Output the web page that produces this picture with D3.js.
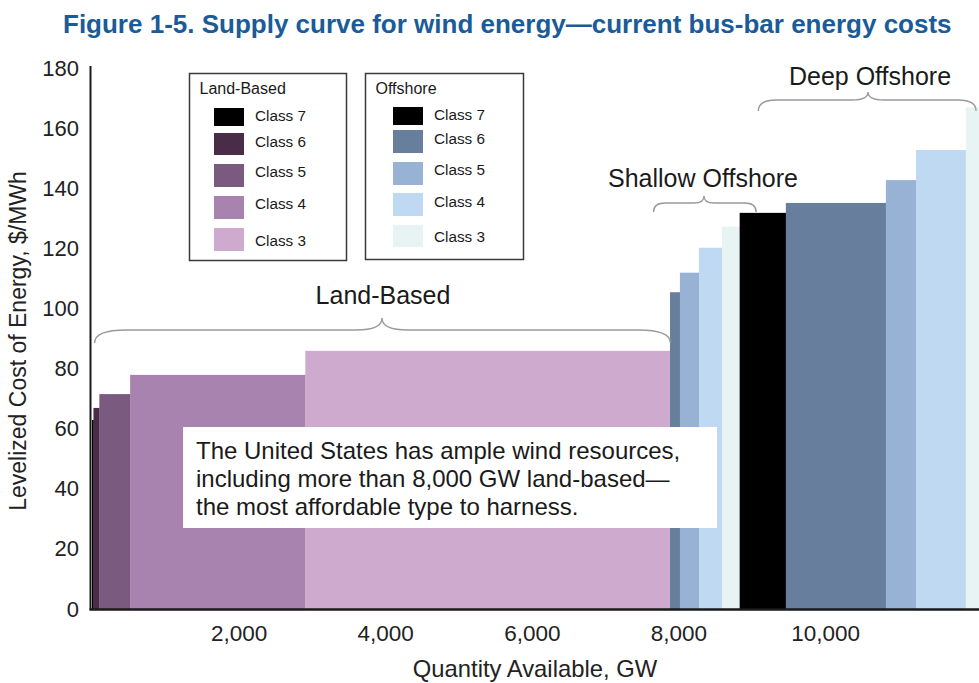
<!DOCTYPE html>
<html>
<head>
<meta charset="utf-8">
<script src="https://cdn.jsdelivr.net/npm/d3@7"></script>
<style>
  html, body { margin: 0; padding: 0; background: #ffffff; }
  svg { display: block; font-family: "Liberation Sans", Arial, Helvetica, sans-serif; }
</style>
</head>
<body>
<svg id="chart" width="979" height="683"></svg>
<script>
// ---------- data ----------
const barGroup    = ["Land","Land","Land","Land","Land",
                     "Shallow","Shallow","Shallow","Shallow",
                     "Deep","Deep","Deep","Deep","Deep"];
const barClass    = [7,6,5,4,3, 6,5,4,3, 7,6,5,4,3];
const capacityGW  = [20,80,420,2390,4975, 135,260,315,240, 630,1365,410,680,330];
const costPerMWh  = [62.9,66.9,71.5,77.9,85.9, 105.4,111.9,120.2,127.2, 131.8,135.1,142.7,152.7,166.9];

const xTicks = [2000,4000,6000,8000,10000];
const yTicks = [0,20,40,60,80,100,120,140,160,180];

const legendClasses = [7,6,5,4,3];
const landColors     = {7:"#000000",6:"#4a2c48",5:"#7b5a80",4:"#a983b0",3:"#cfaacf"};
const offshoreColors = {7:"#000000",6:"#677f9c",5:"#97b2d4",4:"#bfd9f3",3:"#e8f3f3"};

const groupLabels = ["Land-Based","Shallow Offshore","Deep Offshore"];
const titleText = "Figure 1-5. Supply curve for wind energy\u2014current bus-bar energy costs";
const noteLines = ["The United States has ample wind resources,",
                   "including more than 8,000 GW land-based\u2014",
                   "the most affordable type to harness."];

// ---------- scales ----------
const svg = d3.select("#chart");
const x = d3.scaleLinear().domain([0, 12100]).range([92, 979]);
const y = d3.scaleLinear().domain([0, 180]).range([609, 68]);

// cumulative positions
let acc = 0;
const bars = capacityGW.map((c, i) => {
  const b = {group: barGroup[i], cls: barClass[i], x0: acc, x1: acc + c, v: costPerMWh[i]};
  acc += c;
  return b;
});
const colorOf = b => (b.group === "Land" ? landColors : offshoreColors)[b.cls];

// title
svg.append("text").attr("x", 63).attr("y", 33)
  .attr("font-size", 26).attr("font-weight", "bold").attr("fill", "#1a5b98")
  .text(titleText);

// bars
svg.append("g").selectAll("rect").data(bars).join("rect")
  .attr("x", d => x(d.x0))
  .attr("width", d => x(d.x1) - x(d.x0) + 0.3)
  .attr("y", d => y(d.v))
  .attr("height", d => y(0) - y(d.v))
  .attr("fill", colorOf);

// axes
const yAxis = d3.axisLeft(y).tickValues(yTicks).tickSize(0).tickPadding(12);
const gy = svg.append("g").attr("transform", "translate(91,0)").call(yAxis);
gy.select(".domain").remove();
gy.selectAll("text").attr("font-size", 22).attr("fill", "#222").attr("font-family", "Liberation Sans, Arial, sans-serif");

const xAxis = d3.axisBottom(x).tickValues(xTicks).tickSize(0).tickPadding(16).tickFormat(d3.format(","));
const gx = svg.append("g").attr("transform", "translate(0,609)").call(xAxis);
gx.select(".domain").remove();
gx.selectAll("text").attr("font-size", 22.5).attr("fill", "#222").attr("font-family", "Liberation Sans, Arial, sans-serif");

svg.append("line").attr("x1", 90.5).attr("x2", 90.5).attr("y1", 66).attr("y2", 610)
  .attr("stroke", "#1a1a1a").attr("stroke-width", 2);
svg.append("line").attr("x1", 89.5).attr("x2", 979).attr("y1", 609.5).attr("y2", 609.5)
  .attr("stroke", "#1a1a1a").attr("stroke-width", 2.5);

// axis titles
svg.append("text").attr("x", 535).attr("y", 677).attr("text-anchor", "middle")
  .attr("font-size", 23.8).attr("fill", "#222").text("Quantity Available, GW");
svg.append("text").attr("transform", "translate(26,341) rotate(-90)").attr("text-anchor", "middle")
  .attr("font-size", 23).attr("fill", "#222").text("Levelized Cost of Energy, $/MWh");

// braces
function brace(x0, x1, xm, yEnd, yLine, yTip, r, r2) {
  return `M${x0},${yEnd} Q${x0},${yLine} ${x0 + r},${yLine} L${xm - r2},${yLine} ` +
         `Q${xm},${yLine} ${xm},${yTip} Q${xm},${yLine} ${xm + r2},${yLine} ` +
         `L${x1 - r},${yLine} Q${x1},${yLine} ${x1},${yEnd}`;
}
const braceDefs = [
  {x0: x(35),   x1: x(7890),  xm: 382, yEnd: 343, yLine: 330, yTip: 318, r: 32, r2: 26, lx: 383, ly: 304},
  {x0: x(7660), x1: x(9060),  xm: 704, yEnd: 212, yLine: 203, yTip: 196, r: 12, r2: 10, lx: 703, ly: 187},
  {x0: x(9090), x1: x(12060), xm: 868, yEnd: 111, yLine: 100, yTip: 92,  r: 18, r2: 16, lx: 870, ly: 85}
];
braceDefs.forEach((b, i) => {
  svg.append("path").attr("d", brace(b.x0, b.x1, b.xm, b.yEnd, b.yLine, b.yTip, b.r, b.r2))
    .attr("fill", "none").attr("stroke", "#9a9a9a").attr("stroke-width", 1.4);
  svg.append("text").attr("x", b.lx).attr("y", b.ly).attr("text-anchor", "middle")
    .attr("font-size", 25).attr("fill", "#1a1a1a").text(groupLabels[i]);
});

// annotation box
svg.append("rect").attr("x", 183).attr("y", 427).attr("width", 534).attr("height", 101)
  .attr("fill", "#ffffff");
svg.append("g").selectAll("text").data(noteLines).join("text")
  .attr("x", 196).attr("y", (d, i) => 459 + i * 28)
  .attr("font-size", 24).attr("fill", "#1a1a1a").text(d => d);

// legends
function legend(bx, by, bw, bh, title, colors, swX, swTops, swHs, labelYs) {
  const g = svg.append("g");
  g.append("rect").attr("x", bx).attr("y", by).attr("width", bw).attr("height", bh)
    .attr("fill", "#ffffff").attr("stroke", "#3a3a3a").attr("stroke-width", 1.5);
  g.append("text").attr("x", bx + 10).attr("y", by + 20).attr("font-size", 16).attr("fill", "#1a1a1a").text(title);
  legendClasses.forEach((c, i) => {
    g.append("rect").attr("x", swX).attr("y", swTops[i]).attr("width", 30).attr("height", swHs[i])
      .attr("fill", colors[c]);
    g.append("text").attr("x", swX + 41).attr("y", labelYs[i]).attr("dominant-baseline", "central")
      .attr("font-size", 15.3).attr("fill", "#1a1a1a").text("Class " + c);
  });
}
legend(189.5, 73.5, 157, 187, "Land-Based", landColors, 214,
  [108, 133, 164, 196, 228], [18, 22, 23, 23, 23], [115, 141, 171, 203, 240]);
legend(365.5, 73.5, 158, 186, "Offshore", offshoreColors, 393,
  [107, 130, 162, 193, 225], [18, 23, 23, 23, 22], [114, 138, 169, 201, 236]);
</script>
</body>
</html>
